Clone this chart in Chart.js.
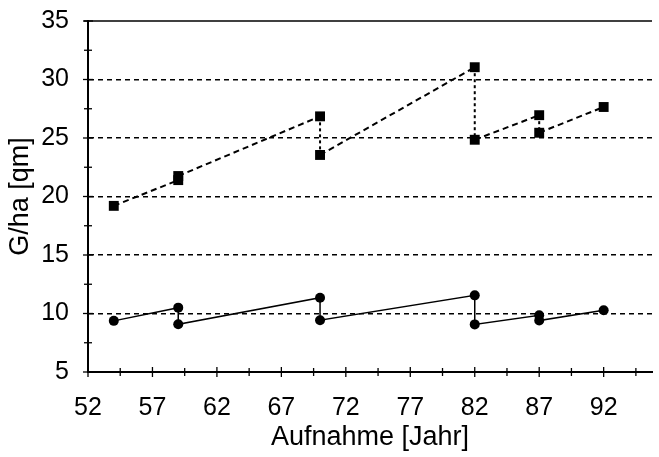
<!DOCTYPE html>
<html>
<head>
<meta charset="utf-8">
<script src="https://cdn.jsdelivr.net/npm/chart.js@4"></script>
<style>
  html, body { margin: 0; padding: 0; background: #fff; }
  #wrap { width: 659px; height: 457px; }
</style>
</head>
<body>
<div id="wrap"><canvas id="chart"></canvas></div>
<script>
// values
var squareYears  = [54, 59, 59, 70, 70, 82, 82, 87, 87, 92];
var squareValues = [19.2, 21.4, 21.75, 26.85, 23.55, 31.05, 24.85, 26.95, 25.45, 27.65];
var circleYears  = [54, 59, 59, 70, 70, 82, 82, 87, 87, 92];
var circleValues = [9.37, 10.5, 9.08, 11.35, 9.43, 11.55, 9.07, 9.85, 9.4, 10.28];

var xTickLabels = [52, 57, 62, 67, 72, 77, 82, 87, 92];
var yTickLabels = [5, 10, 15, 20, 25, 30, 35];
var yGridValues = [10, 15, 20, 25, 30];

function toPoints(xs, ys) {
  return xs.map(function(x, i) { return {x: x, y: ys[i]}; });
}

var tickFont = {family: 'Liberation Sans', size: 25};
var titleFont = {family: 'Liberation Sans', size: 27};

// ticks that cross the axes, plus the top frame line
var axisTicks = {
  id: 'axisTicks',
  afterDraw: function(chart) {
    var ctx = chart.ctx;
    var area = chart.chartArea;
    var xs = chart.scales.x, ys = chart.scales.y;
    ctx.save();
    ctx.strokeStyle = '#000';
    ctx.lineWidth = 1.5;
    ctx.beginPath();
    ctx.moveTo(area.left - 4, area.top);
    ctx.lineTo(area.right, area.top);
    ctx.stroke();
    ctx.lineWidth = 1.3;
    for (var v = xs.min; v <= xs.max; v += 2.5) {
      var px = xs.getPixelForValue(v);
      var len = (v - xs.min) % 5 === 0 ? 5 : 4;
      ctx.beginPath();
      ctx.moveTo(px, area.bottom - len);
      ctx.lineTo(px, area.bottom + len);
      ctx.stroke();
    }
    for (var w = ys.min; w <= ys.max; w += 2.5) {
      var py = ys.getPixelForValue(w);
      var l = w % 5 === 0 ? 5 : 4;
      ctx.beginPath();
      ctx.moveTo(area.left - l, py);
      ctx.lineTo(area.left + l, py);
      ctx.stroke();
    }
    ctx.restore();
  }
};

var ctx = document.getElementById('chart').getContext('2d');
var chart = new Chart(ctx, {
  type: 'line',
  data: {
    datasets: [{
      label: 'squares',
      data: toPoints(squareYears, squareValues),
      borderColor: '#000',
      backgroundColor: '#000',
      borderWidth: 2,
      borderDash: [6, 4],
      segment: {
        borderDash: function(c) { return c.p0.parsed.x === c.p1.parsed.x ? [3, 3] : [6, 4]; }
      },
      pointStyle: 'rect',
      pointRadius: 7,
      pointBorderWidth: 0,
      tension: 0
    }, {
      label: 'circles',
      data: toPoints(circleYears, circleValues),
      borderColor: '#000',
      backgroundColor: '#000',
      borderWidth: 1.5,
      pointStyle: 'circle',
      pointRadius: 5,
      pointBorderWidth: 0,
      tension: 0
    }]
  },
  options: {
    responsive: true,
    maintainAspectRatio: false,
    animation: false,
    layout: {padding: {top: 21, right: 0, left: 0, bottom: 0}},
    plugins: {legend: {display: false}, tooltip: {enabled: false}},
    scales: {
      x: {
        type: 'linear',
        min: 52,
        max: 95.75,
        afterBuildTicks: function(scale) {
          scale.ticks = xTickLabels.map(function(v) { return {value: v}; });
        },
        afterFit: function(scale) { scale.height = 85; },
        grid: {drawOnChartArea: false, drawTicks: false},
        border: {display: true, color: '#000', width: 2},
        ticks: {color: '#000', font: tickFont, padding: 21, maxRotation: 0, autoSkip: false},
        title: {display: true, text: 'Aufnahme [Jahr]', color: '#000', font: titleFont, padding: {bottom: 3}}
      },
      y: {
        min: 5,
        max: 35,
        afterFit: function(scale) {
          scale.width = 88;
          scale.paddingTop = 0;
          scale.paddingBottom = 0;
        },
        ticks: {
          stepSize: 2.5,
          color: '#000',
          font: tickFont,
          padding: 19,
          callback: function(v) { return yTickLabels.indexOf(v) >= 0 ? String(v) : ''; }
        },
        grid: {
          drawTicks: false,
          lineWidth: 1.5,
          color: function(c) { return yGridValues.indexOf(c.tick.value) >= 0 ? '#000' : 'rgba(0,0,0,0)'; }
        },
        border: {display: true, color: '#000', width: 2, dash: [5, 4]},
        title: {display: true, text: 'G/ha [qm]', color: '#000', font: titleFont, padding: {top: 4}}
      }
    }
  },
  plugins: [axisTicks]
});
</script>
</body>
</html>
